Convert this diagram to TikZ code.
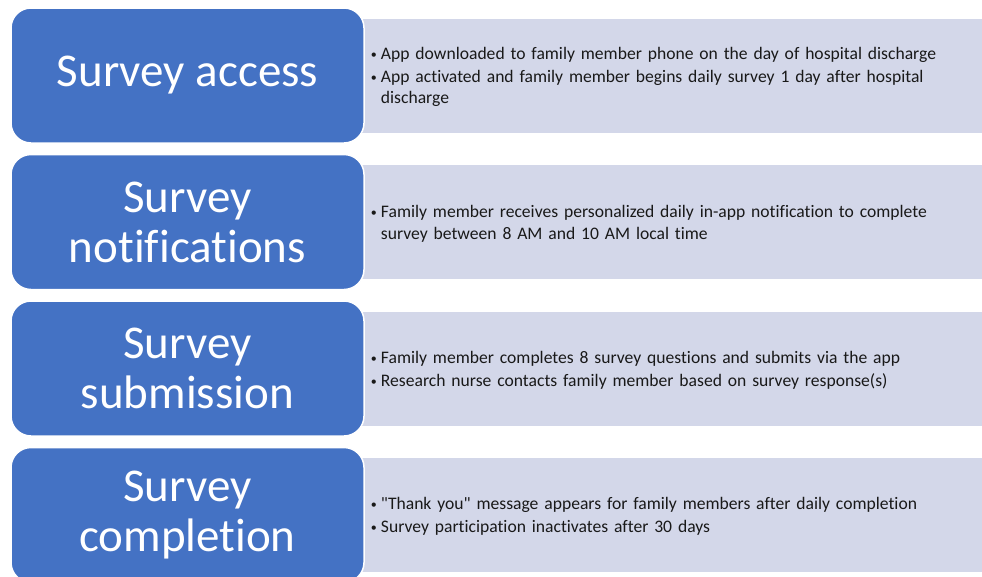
\documentclass[tikz,border=0pt]{standalone}
\usepackage{fontspec}
\setmainfont{Carlito}[Ligatures={ResetAll,NoCommon}]
\newfontfamily\straightfont{Carlito}[Ligatures=NoCommon]
\usetikzlibrary{positioning}
\pgfdeclarelayer{background}
\pgfsetlayers{background,main}

\definecolor{stageblue}{HTML}{4472C4}
\definecolor{notelav}{HTML}{D3D7E9}

% one bullet line, wrapped lines hang under the text
\newcommand{\bitem}[1]{\par\noindent\makebox[10pt][l]{\raisebox{1pt}{\fontsize{12}{12}\selectfont\textbullet}}%
  \parbox[t]{592pt}{\raggedright #1}\par}
\newcommand{\dquote}{{\straightfont"}}

\begin{document}
\begin{tikzpicture}[x=1pt,y=-1pt,node distance=10pt]
\tikzset{
  stagebox/.style={rectangle, rounded corners=20pt, minimum width=353pt, minimum height=135pt,
    fill=stageblue, draw=white, line width=1.5pt, text=white, align=center,
    font=\fontsize{47}{50}\selectfont},
  notebox/.style={rectangle, minimum width=620pt, minimum height=114pt, fill=notelav,
    inner xsep=9pt, text width=602pt, anchor=west, text=black!90, align=left,
    font=\fontsize{17.6}{21.5}\selectfont, execute at end node=\vspace{6pt}}
}
\useasboundingbox (0,0) rectangle (982,576);

\node (acc) [stagebox] at (187.5,75.5) {Survey access};
\node (notif) [stagebox, below=of acc] {Survey\\notifications};
\node (subm) [stagebox, below=of notif] {Survey\\submission};
\node (compl) [stagebox, below=of subm] {Survey\\completion};

\begin{pgfonlayer}{background}
\node (accnote) [notebox, xshift=-3pt] at (acc.east) {%
  \bitem{App downloaded to family member phone on the day of hospital discharge}\vspace{1.5pt}
  \bitem{App activated and family member begins daily survey 1 day after hospital\\discharge}};
\node (notifnote) [notebox, xshift=-3pt] at (notif.east) {%
  \bitem{Family member receives personalized daily in-app notification to complete\\survey between 8 AM and 10 AM local time}};
\node (submnote) [notebox, xshift=-3pt] at (subm.east) {%
  \bitem{Family member completes 8 survey questions and submits via the app}\vspace{1.5pt}
  \bitem{Research nurse contacts family member based on survey response(s)}};
\node (complnote) [notebox, xshift=-3pt] at (compl.east) {%
  \bitem{\dquote Thank you\dquote{} message appears for family members after daily completion}\vspace{1.5pt}
  \bitem{Survey participation inactivates after 30 days}};
\end{pgfonlayer}
\end{tikzpicture}
\end{document}
